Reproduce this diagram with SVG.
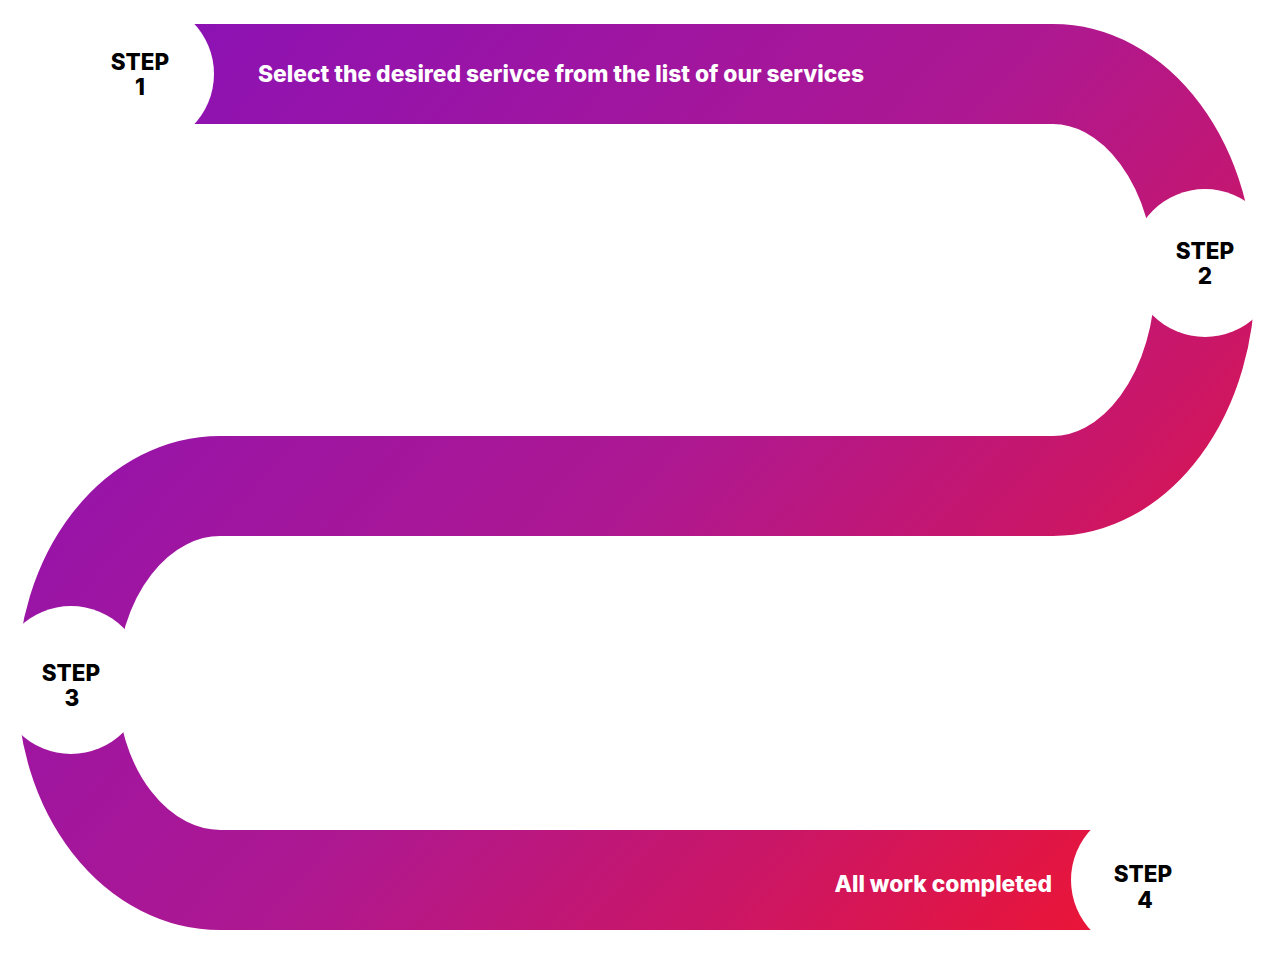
<svg xmlns="http://www.w3.org/2000/svg" width="1278" height="957" viewBox="0 0 1278 957">
<defs>
<linearGradient id="g" gradientUnits="userSpaceOnUse" x1="150" y1="50" x2="1150" y2="930">
<stop offset="0" stop-color="#8C12B4"/>
<stop offset="0.5" stop-color="#AE1891"/>
<stop offset="0.75" stop-color="#CB1666"/>
<stop offset="1" stop-color="#EF1530"/>
</linearGradient>
<style>
.step{font-family:Inter,"Liberation Sans",sans-serif;font-weight:800;font-size:22.5px;fill:#000;text-anchor:middle}
.lbl{font-family:Inter,"Liberation Sans",sans-serif;font-weight:800;font-size:22.8px;fill:#fff}
.hole{fill:#fff}
</style>
</defs>
<rect width="1278" height="957" fill="#fff"/>
<g id="connectors">
<path d="M140 74 H1053 A152 206 0 0 1 1053 486 H220 A153 197 0 0 0 220 880 H1145" fill="none" stroke="url(#g)" stroke-width="100"/>
</g>
<g id="step1">
<circle class="hole" cx="140" cy="74" r="74"/>
<text class="step" x="140" y="70">STEP</text>
<text class="step" x="140" y="95">1</text>
</g>
<g id="label1">
<text class="lbl" x="258" y="82">Select the desired serivce from the list of our services</text>
</g>
<g id="step2">
<circle class="hole" cx="1205" cy="263" r="74"/>
<text class="step" x="1205" y="259">STEP</text>
<text class="step" x="1205" y="284">2</text>
</g>
<g id="step3">
<circle class="hole" cx="71" cy="680" r="74"/>
<text class="step" x="71" y="681">STEP</text>
<text class="step" x="72" y="706">3</text>
</g>
<g id="step4">
<circle class="hole" cx="1145" cy="880" r="74"/>
<text class="step" x="1143" y="882">STEP</text>
<text class="step" x="1145" y="908">4</text>
</g>
<g id="label4">
<text class="lbl" x="1052" y="892" text-anchor="end">All work completed</text>
</g>
</svg>
